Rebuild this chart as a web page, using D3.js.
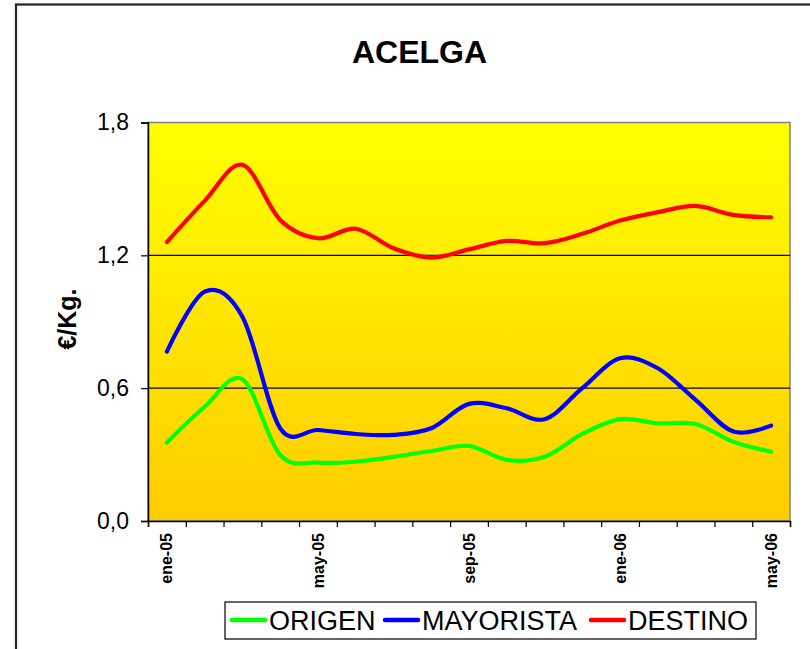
<!DOCTYPE html>
<html><head><meta charset="utf-8">
<script src="https://cdn.jsdelivr.net/npm/d3@7"></script>
<style>
html,body{margin:0;padding:0;background:#fff;}
text{font-family:"Liberation Sans",Arial,sans-serif;}
</style></head>
<body>
<svg id="chart" width="810" height="649"></svg>
<script>
const months = ["ene-05","feb-05","mar-05","abr-05","may-05","jun-05","jul-05","ago-05","sep-05","oct-05","nov-05","dic-05","ene-06","feb-06","mar-06","abr-06","may-06"];
const shownLabels = ["ene-05","may-05","sep-05","ene-06","may-06"];
const origen    = [0.354,0.516,0.640,0.298,0.264,0.268,0.290,0.316,0.339,0.276,0.290,0.393,0.460,0.441,0.438,0.358,0.313];
const mayorista = [0.765,1.036,0.923,0.419,0.411,0.393,0.389,0.419,0.529,0.509,0.460,0.600,0.735,0.690,0.547,0.404,0.431];
const destino   = [1.260,1.446,1.609,1.360,1.277,1.320,1.232,1.190,1.227,1.265,1.255,1.297,1.357,1.395,1.423,1.383,1.372];
const yTicks = [0, 0.6, 1.2, 1.8];
const seriesNames = ["ORIGEN","MAYORISTA","DESTINO"];
const seriesColors = ["#00FF00","#0000FF","#FF0000"];
const seriesData = [origen, mayorista, destino];

const svg = d3.select("#chart");
const L = 148, R = 790, T = 122.5, B = 521;

// outer chart border
svg.append("rect").attr("x",16).attr("y",4.5).attr("width",900).attr("height",800)
  .attr("fill","#fff").attr("stroke","#222").attr("stroke-width",2.2);

// title
svg.append("text").attr("x",419.5).attr("y",63).attr("text-anchor","middle")
  .attr("font-size",32).attr("font-weight","bold").text("ACELGA");

const defs = svg.append("defs");
const grad = defs.append("linearGradient").attr("id","bg").attr("x1",0).attr("y1",0).attr("x2",0).attr("y2",1);
grad.append("stop").attr("offset","0%").attr("stop-color","#FFFF00");
grad.append("stop").attr("offset","100%").attr("stop-color","#FFCC00");

const x = d3.scaleLinear().domain([0, months.length]).range([L, R]);
const y = d3.scaleLinear().domain([0, 1.8]).range([B, T]);

// plot background
svg.append("rect").attr("x",L).attr("y",T).attr("width",R-L).attr("height",B-T)
  .attr("fill","url(#bg)").attr("stroke","#808080").attr("stroke-width",1.5);

// gridlines
svg.append("g").selectAll("line").data(yTicks.filter(v=>v>0 && v<1.8)).join("line")
  .attr("x1",L).attr("x2",R).attr("y1",d=>y(d)).attr("y2",d=>y(d))
  .attr("stroke","#000").attr("stroke-width",1.2);

// y axis
const yAxis = svg.append("g").attr("transform",`translate(${L},0)`)
  .call(d3.axisLeft(y).tickValues(yTicks).tickSize(7).tickPadding(12)
    .tickFormat(d=>d3.format(".1f")(d).replace(".",",")));
yAxis.select(".domain").attr("stroke","#000").attr("stroke-width",1.5);
yAxis.selectAll(".tick line").attr("stroke","#000").attr("stroke-width",1.2);
yAxis.selectAll(".tick text").attr("font-size",23).attr("font-family","Liberation Sans, Arial, sans-serif").attr("fill","#000");

// x axis
const xAxis = svg.append("g").attr("transform",`translate(0,${B})`)
  .call(d3.axisBottom(x).tickValues(d3.range(months.length+1)).tickSize(6).tickFormat(""));
xAxis.select(".domain").attr("stroke","#000").attr("stroke-width",1.5);
xAxis.selectAll(".tick line").attr("stroke","#000").attr("stroke-width",1.2);

svg.append("g").selectAll("text").data(months.map((m,i)=>({m,i})).filter(d=>shownLabels.includes(d.m))).join("text")
  .attr("transform",d=>`translate(${x(d.i+0.5)},533) rotate(-90)`)
  .attr("text-anchor","end").attr("dy","0.35em")
  .attr("font-size",16).attr("font-weight","bold").text(d=>d.m);

// y title
svg.append("text").attr("transform","translate(67,319) rotate(-90)")
  .attr("text-anchor","middle").attr("dy","0.35em")
  .attr("font-size",25).attr("font-weight","bold").text("€/Kg.");

// lines
const line = d3.line().x((d,i)=>x(i+0.5)).y(d=>y(d)).curve(d3.curveCatmullRom.alpha(0));
svg.append("g").selectAll("path").data(seriesData).join("path")
  .attr("d",d=>line(d)).attr("fill","none")
  .attr("stroke",(d,i)=>seriesColors[i]).attr("stroke-width",4.2)
  .attr("stroke-linecap","round").attr("stroke-linejoin","round");

// legend
const legX = [232, 385, 591];
const leg = svg.append("g");
leg.append("rect").attr("x",225).attr("y",602).attr("width",531).attr("height",37)
  .attr("fill","#fff").attr("stroke","#000").attr("stroke-width",1.2);
seriesNames.forEach((n,i)=>{
  leg.append("line").attr("x1",legX[i]).attr("x2",legX[i]+33).attr("y1",620).attr("y2",620)
    .attr("stroke",seriesColors[i]).attr("stroke-width",4.5).attr("stroke-linecap","round");
  leg.append("text").attr("x",legX[i]+37).attr("y",629.5).attr("font-size",27).text(n);
});
</script>
</body></html>
